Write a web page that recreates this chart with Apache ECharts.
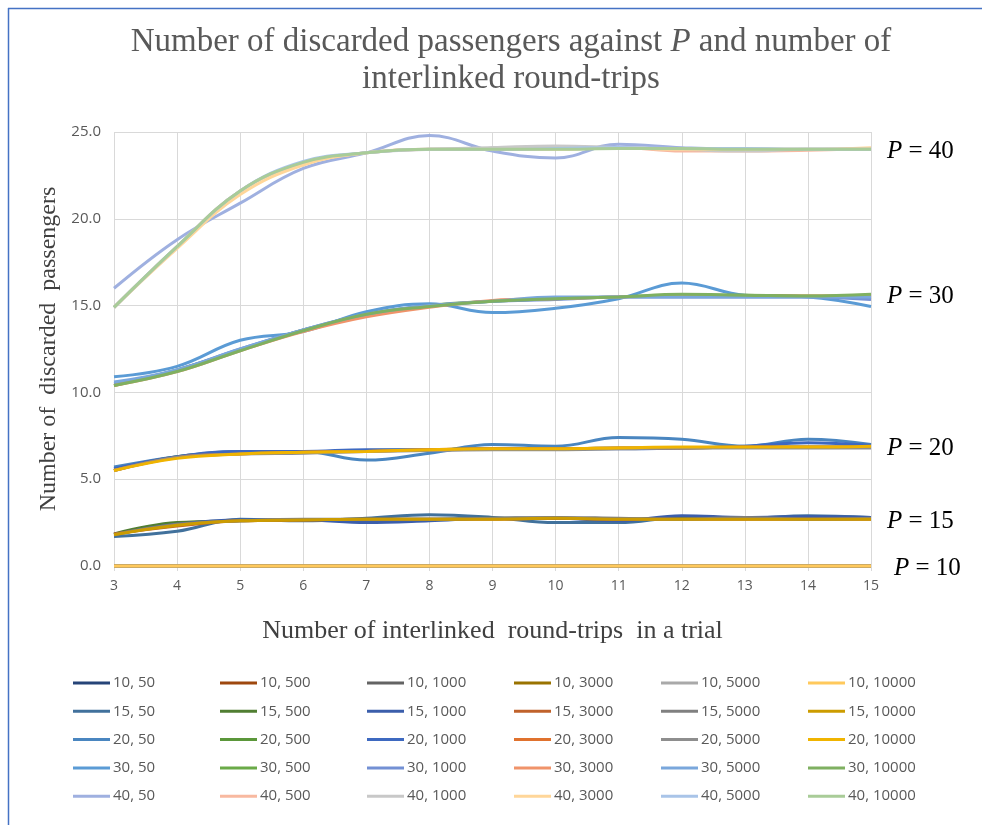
<!DOCTYPE html>
<html>
<head>
<meta charset="utf-8">
<script src="https://cdn.jsdelivr.net/npm/echarts@6/dist/echarts.min.js"></script>
<style>
  html, body { margin: 0; padding: 0; background: #fff; }
  #chart { width: 982px; height: 825px; }
</style>
</head>
<body>
<div id="chart"></div>
<script>
// Number of interlinked round-trips per trial (x axis)
const trips = [3, 4, 5, 6, 7, 8, 9, 10, 11, 12, 13, 14, 15];

// Passenger counts P (rows) and run sizes (columns)
const pValues = [10, 15, 20, 30, 40];
const runSizes = [50, 500, 1000, 3000, 5000, 10000];

// Discarded passengers, one array per (P, run size)
const p10_50    = [0, 0, 0, 0, 0, 0, 0, 0, 0, 0, 0, 0, 0];
const p10_500   = [0, 0, 0, 0, 0, 0, 0, 0, 0, 0, 0, 0, 0];
const p10_1000  = [0, 0, 0, 0, 0, 0, 0, 0, 0, 0, 0, 0, 0];
const p10_3000  = [0, 0, 0, 0, 0, 0, 0, 0, 0, 0, 0, 0, 0];
const p10_5000  = [0, 0, 0, 0, 0, 0, 0, 0, 0, 0, 0, 0, 0];
const p10_10000 = [0, 0, 0, 0, 0, 0, 0, 0, 0, 0, 0, 0, 0];

const p15_50    = [1.7, 2.0, 2.7, 2.6, 2.75, 2.95, 2.8, 2.5, 2.5, 2.8, 2.75, 2.9, 2.8];
const p15_500   = [1.85, 2.5, 2.6, 2.65, 2.7, 2.7, 2.75, 2.75, 2.7, 2.75, 2.75, 2.75, 2.75];
const p15_1000  = [1.8, 2.4, 2.65, 2.65, 2.5, 2.6, 2.75, 2.75, 2.6, 2.9, 2.8, 2.85, 2.8];
const p15_3000  = [1.85, 2.3, 2.6, 2.65, 2.7, 2.7, 2.7, 2.75, 2.7, 2.7, 2.7, 2.7, 2.7];
const p15_5000  = [1.8, 2.4, 2.6, 2.7, 2.7, 2.7, 2.75, 2.8, 2.75, 2.7, 2.8, 2.7, 2.75];
const p15_10000 = [1.8, 2.35, 2.6, 2.65, 2.7, 2.7, 2.7, 2.75, 2.7, 2.7, 2.7, 2.7, 2.7];

const p20_50    = [5.7, 6.3, 6.6, 6.6, 6.1, 6.5, 7.0, 6.9, 7.4, 7.3, 6.9, 7.3, 7.0];
const p20_500   = [5.5, 6.3, 6.5, 6.55, 6.65, 6.7, 6.75, 6.75, 6.8, 6.8, 6.85, 6.85, 6.9];
const p20_1000  = [5.6, 6.3, 6.6, 6.6, 6.7, 6.7, 6.75, 6.75, 6.75, 6.8, 6.9, 7.1, 6.95];
const p20_3000  = [5.5, 6.25, 6.45, 6.55, 6.6, 6.7, 6.75, 6.75, 6.8, 6.8, 6.85, 6.85, 6.85];
const p20_5000  = [5.5, 6.25, 6.45, 6.5, 6.6, 6.65, 6.7, 6.7, 6.75, 6.8, 6.8, 6.8, 6.8];
const p20_10000 = [5.5, 6.2, 6.45, 6.55, 6.6, 6.7, 6.75, 6.75, 6.8, 6.85, 6.85, 6.85, 6.9];

const p30_50    = [10.9, 11.5, 13.0, 13.5, 14.65, 15.1, 14.6, 14.85, 15.4, 16.3, 15.6, 15.5, 14.95];
const p30_500   = [10.4, 11.3, 12.45, 13.6, 14.45, 15.0, 15.25, 15.4, 15.5, 15.6, 15.6, 15.55, 15.6];
const p30_1000  = [10.5, 11.3, 12.5, 13.6, 14.5, 15.0, 15.25, 15.35, 15.5, 15.5, 15.5, 15.5, 15.35];
const p30_3000  = [10.4, 11.2, 12.4, 13.5, 14.35, 14.9, 15.3, 15.4, 15.5, 15.55, 15.55, 15.55, 15.6];
const p30_5000  = [10.6, 11.3, 12.5, 13.6, 14.5, 15.0, 15.25, 15.5, 15.5, 15.5, 15.5, 15.5, 15.5];
const p30_10000 = [10.4, 11.2, 12.4, 13.55, 14.5, 14.95, 15.25, 15.4, 15.5, 15.65, 15.6, 15.55, 15.65];

const p40_50    = [16.0, 18.8, 20.9, 22.9, 23.8, 24.8, 23.9, 23.5, 24.3, 24.1, 24.0, 24.0, 24.0];
const p40_500   = [14.9, 18.4, 21.6, 23.2, 23.8, 24.0, 24.0, 24.1, 24.1, 23.9, 23.9, 23.95, 24.05];
const p40_1000  = [14.9, 18.4, 21.6, 23.2, 23.8, 24.0, 24.1, 24.2, 24.1, 24.0, 23.9, 24.0, 24.0];
const p40_3000  = [14.9, 18.3, 21.4, 23.1, 23.8, 24.0, 24.0, 24.0, 24.1, 24.0, 24.0, 24.0, 24.1];
const p40_5000  = [14.9, 18.4, 21.6, 23.3, 23.8, 24.0, 24.0, 24.05, 24.1, 24.05, 24.05, 24.0, 24.0];
const p40_10000 = [14.9, 18.4, 21.6, 23.25, 23.8, 24.0, 24.0, 24.0, 24.05, 24.05, 24.0, 24.0, 24.0];

const valuesByP = {
  10: [p10_50, p10_500, p10_1000, p10_3000, p10_5000, p10_10000],
  15: [p15_50, p15_500, p15_1000, p15_3000, p15_5000, p15_10000],
  20: [p20_50, p20_500, p20_1000, p20_3000, p20_5000, p20_10000],
  30: [p30_50, p30_500, p30_1000, p30_3000, p30_5000, p30_10000],
  40: [p40_50, p40_500, p40_1000, p40_3000, p40_5000, p40_10000]
};

// Line colours, rows follow P, columns follow run size
const colorsByP = {
  10: ['#264478', '#9E480E', '#636363', '#997300', '#A9A9A9', '#FFC95C'],
  15: ['#41719C', '#507E32', '#3B5EAB', '#C0622B', '#808080', '#CC9C00'],
  20: ['#4A86C0', '#5B973A', '#3E69C0', '#E0722E', '#8E8E8E', '#F0B400'],
  30: ['#5B9BD5', '#6AAA48', '#7390D4', '#F0936A', '#7AA7DC', '#7FB061'],
  40: ['#9FB0E0', '#F8B9A0', '#C8C8C8', '#FFD699', '#A9C4E8', '#A9CC98']
};

const serif = '"Liberation Serif", "Times New Roman", serif';
const sans = '"Open Sans", "Liberation Sans", sans-serif';

const series = [];
pValues.forEach(p => {
  runSizes.forEach((r, i) => {
    series.push({
      name: p + ', ' + r,
      type: 'line',
      smooth: 0.4,
      clip: false,
      showSymbol: false,
      symbol: 'none',
      data: trips.map((t, k) => [t, valuesByP[p][i][k]]),
      lineStyle: { width: 3, color: colorsByP[p][i] },
      itemStyle: { color: colorsByP[p][i] },
      emphasis: { disabled: true }
    });
  });
});

// One vertical legend per run-size column
const legendLeft = [73, 220, 367, 514, 661, 808];
const legends = runSizes.map((r, i) => ({
  orient: 'vertical',
  left: legendLeft[i],
  top: 675,
  padding: 0,
  itemGap: 12.3,
  itemWidth: 37,
  itemHeight: 3,
  icon: 'rect',
  selectedMode: false,
  data: pValues.map(p => ({ name: p + ', ' + r, itemStyle: { color: colorsByP[p][i] } })),
  textStyle: { fontFamily: sans, fontSize: 15, color: '#595959', lineHeight: 16, padding: [0, 0, 0, -2] }
}));

const chart = echarts.init(document.getElementById('chart'), null, { renderer: 'canvas' });

chart.setOption({
  animation: false,
  backgroundColor: '#ffffff',
  title: {
    left: 506,
    top: 19,
    textAlign: 'center',
    text: 'Number of discarded passengers against {i|P} and number of\ninterlinked round-trips',
    textStyle: {
      fontFamily: serif, fontSize: 33, fontWeight: 'normal', color: '#595959', lineHeight: 37,
      rich: {
        i: { fontFamily: serif, fontSize: 33, fontStyle: 'italic', color: '#595959', lineHeight: 37 }
      }
    }
  },
  legend: legends,
  grid: { left: 114, right: 111, top: 132, bottom: 259, containLabel: false },
  xAxis: {
    type: 'value',
    min: 3, max: 15, interval: 1,
    name: 'Number of interlinked  round-trips  in a trial',
    nameLocation: 'middle',
    nameGap: 52,
    nameTextStyle: { fontFamily: serif, fontSize: 26, color: '#404040' },
    axisLine: { show: false },
    axisTick: { show: true, length: 5, lineStyle: { color: '#D9D9D9' } },
    axisLabel: { fontFamily: sans, fontSize: 14, color: '#595959', margin: 13 },
    splitLine: { show: true, lineStyle: { color: '#D9D9D9', width: 1 } }
  },
  yAxis: {
    type: 'value',
    min: 0, max: 25, interval: 5,
    name: 'Number of  discarded  passengers',
    nameLocation: 'middle',
    nameRotate: 90,
    nameGap: 60,
    nameTextStyle: { fontFamily: serif, fontSize: 24, color: '#404040', verticalAlign: 'middle' },
    axisLine: { show: false },
    axisTick: { show: false },
    axisLabel: { fontFamily: sans, fontSize: 15, color: '#595959', margin: 13, formatter: v => v.toFixed(1) },
    splitLine: { show: true, lineStyle: { color: '#D9D9D9', width: 1 } }
  },
  series: series
});

// Group labels at the right-hand end of each P band, placed from the last data point
const labelGraphics = pValues.map(p => {
  const last = valuesByP[p][runSizes.length - 1];
  const pt = chart.convertToPixel({ gridIndex: 0 }, [trips[trips.length - 1], last[last.length - 1]]);
  return {
    type: 'text',
    x: pt[0] + (p === 10 ? 23 : 16),
    y: pt[1] + 2,
    style: {
      text: '{i|P} = ' + p,
      fontFamily: serif,
      fontSize: 25,
      fill: '#000000',
      verticalAlign: 'middle',
      rich: { i: { fontFamily: serif, fontSize: 25, fontStyle: 'italic', fill: '#000000' } }
    }
  };
});

chart.setOption({
  graphic: [
    { type: 'line', shape: { x1: 8, y1: 8.5, x2: 982, y2: 8.5 }, style: { stroke: '#4472C4', lineWidth: 1.5 } },
    { type: 'line', shape: { x1: 8.5, y1: 8, x2: 8.5, y2: 825 }, style: { stroke: '#4472C4', lineWidth: 1.5 } }
  ].concat(labelGraphics)
});
</script>
</body>
</html>
